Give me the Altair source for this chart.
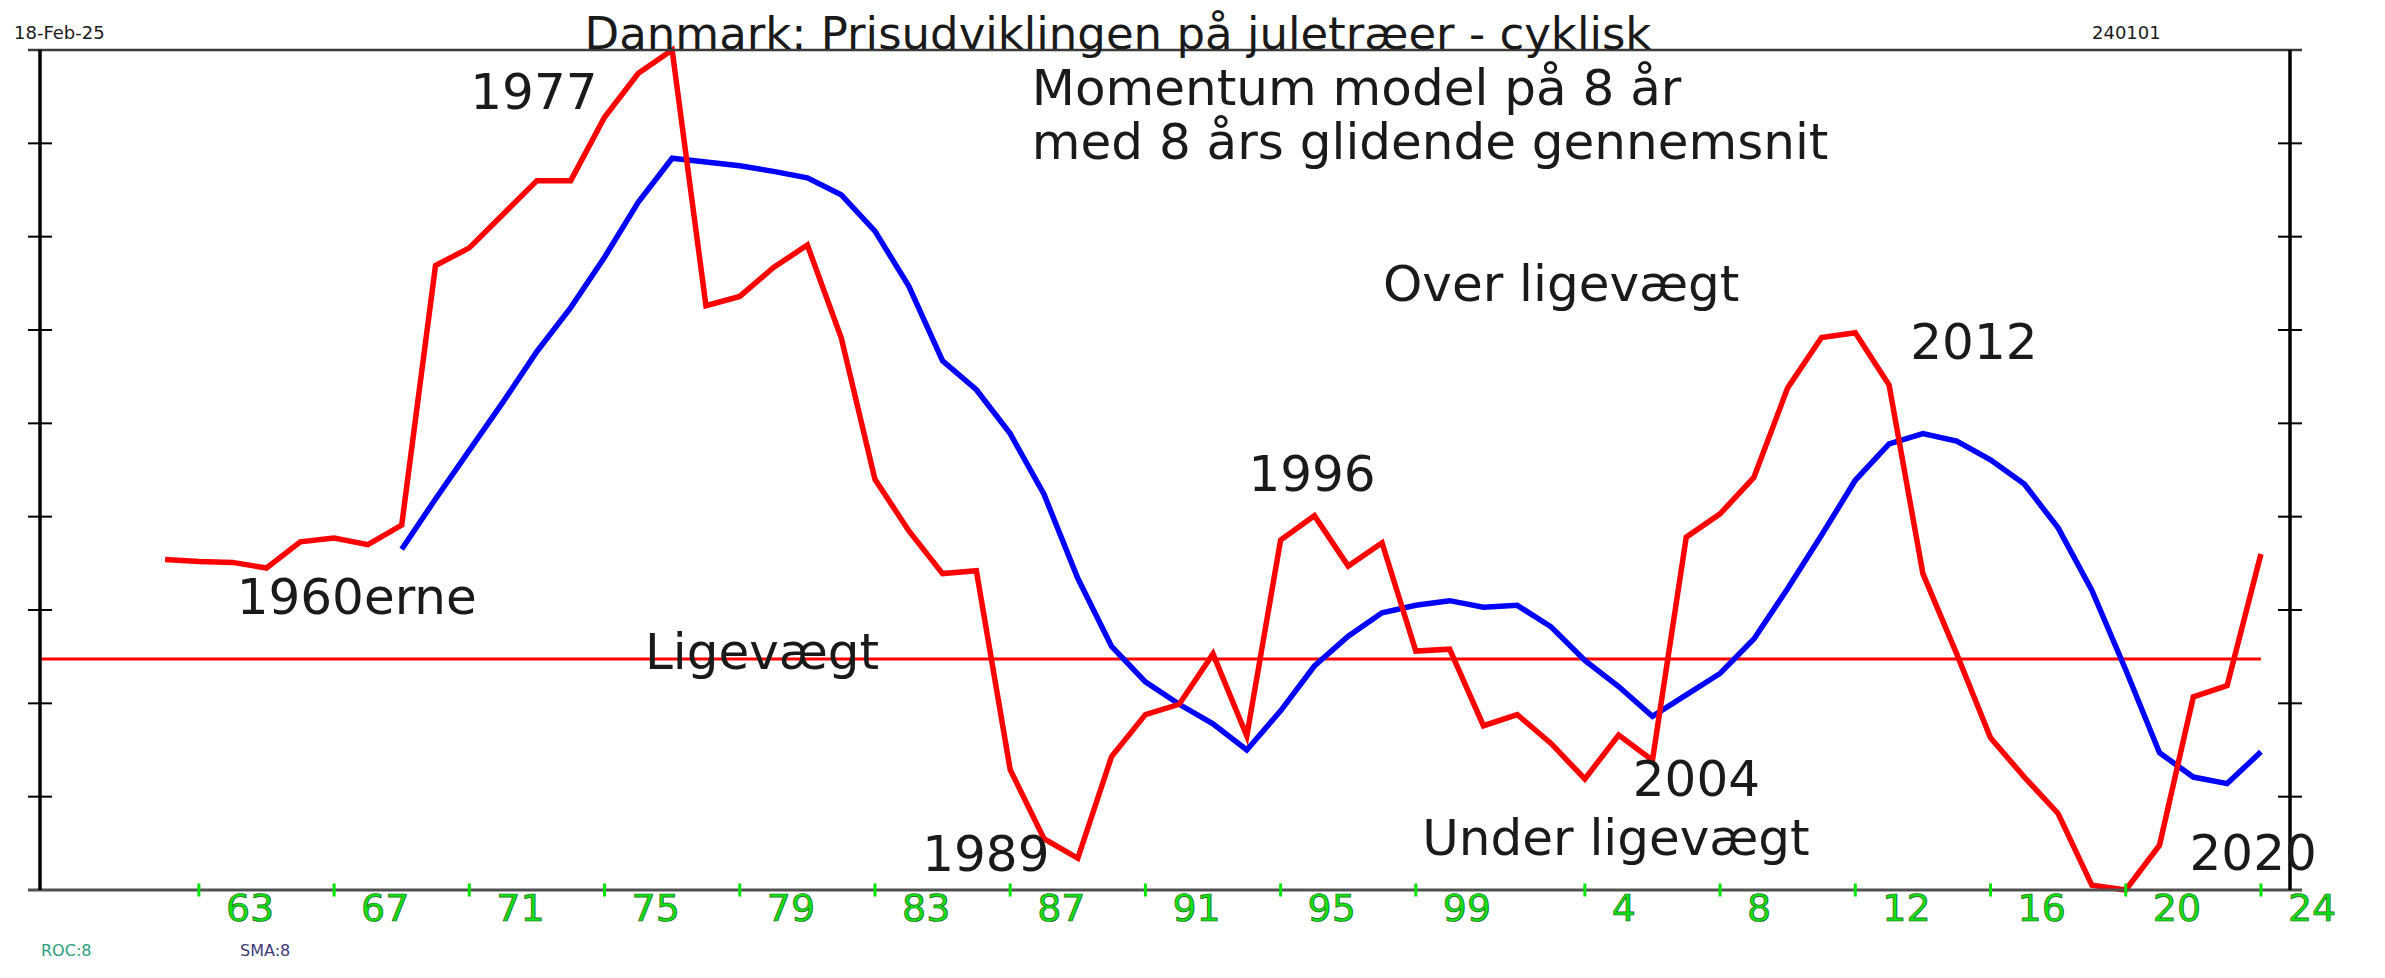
import altair as alt
import pandas as pd

# ---------------- data ----------------
red_years = list(range(1962, 2025))
red_values = [3.54, 3.52, 3.51, 3.45, 3.73, 3.77, 3.70, 3.91, 6.69, 6.88,
              7.24, 7.60, 7.60, 8.28, 8.75, 9.00, 6.26, 6.36, 6.67, 6.91,
              5.92, 4.40, 3.85, 3.39, 3.42, 1.29, 0.55, 0.34, 1.43, 1.88,
              1.99, 2.53, 1.65, 3.75, 4.01, 3.47, 3.72, 2.56, 2.58, 1.76,
              1.88, 1.57, 1.19, 1.66, 1.39, 3.78, 4.03, 4.42, 5.38, 5.92,
              5.97, 5.41, 3.39, 2.53, 1.63, 1.21, 0.82, 0.05, 0.00, 0.48,
              2.07, 2.19, 3.60]

blue_years = list(range(1969, 2025))
blue_values = [3.65, 4.19, 4.71, 5.23, 5.77, 6.24, 6.78, 7.37, 7.84, 7.80,
               7.76, 7.70, 7.63, 7.45, 7.06, 6.47, 5.67, 5.36, 4.89, 4.24,
               3.34, 2.61, 2.23, 1.99, 1.78, 1.50, 1.92, 2.40, 2.72, 2.97,
               3.05, 3.10, 3.03, 3.05, 2.82, 2.46, 2.18, 1.86, 2.09, 2.32,
               2.69, 3.23, 3.80, 4.39, 4.78, 4.89, 4.81, 4.61, 4.35, 3.88,
               3.21, 2.36, 1.47, 1.21, 1.14, 1.48]

equilibrium = 2.475
y_ticks = [1, 2, 3, 4, 5, 6, 7, 8]

tick_years = [1963, 1967, 1971, 1975, 1979, 1983, 1987, 1991, 1995, 1999,
              2004, 2008, 2012, 2016, 2020, 2024]
tick_labels = ["63", "67", "71", "75", "79", "83", "87", "91", "95", "99",
               "4", "8", "12", "16", "20", "24"]

ann_text = ["1977", "1960erne", "Ligevægt", "1989", "1996", "Over ligevægt",
            "2004", "Under ligevægt", "2012", "2020"]
ann_x = [1972.91, 1967.67, 1979.66, 1986.28, 1995.93, 2003.30,
         2007.30, 2004.92, 2015.51, 2023.77]
ann_y = [8.37, 2.96, 2.37, 0.20, 4.28, 6.31, 1.01, 0.37, 5.69, 0.21]

note_lines = ["Momentum model på 8 år", "med 8 års glidende gennemsnit"]
note_x = [1987.64, 1987.64]
note_y = [8.41, 7.83]

title_text = "Danmark: Prisudviklingen på juletræer - cyklisk"
date_text = "18-Feb-25"
code_text = "240101"
legend_texts = ["ROC:8", "SMA:8"]

# ---------------- layout ----------------
W, H = 2250, 840
X_MIN, X_MAX = 1958.3, 2024.86
Y_MIN, Y_MAX = 0, 9
FONT = "DejaVu Sans"
ANN_SIZE = 50

xs = alt.Scale(domain=[X_MIN, X_MAX], nice=False, zero=False)
ys = alt.Scale(domain=[Y_MIN, Y_MAX], nice=False, zero=False)


def X(f):
    return alt.X(f, type="quantitative", scale=xs, axis=None)


def Y(f):
    return alt.Y(f, type="quantitative", scale=ys, axis=None)


px_year = W / (X_MAX - X_MIN)
ext = 12 / px_year
gt = 6.5 / (H / (Y_MAX - Y_MIN))

# frame: top line and bottom (x-axis) line
hlines = pd.DataFrame({"x": [X_MIN - ext, X_MIN - ext], "x2": [X_MAX + ext, X_MAX + ext],
                       "y": [Y_MAX, Y_MIN], "c": ["#3a3a3a", "#505050"], "w": [2.5, 3.0]})
h_layer = alt.Chart(hlines).mark_rule().encode(
    x=X("x"), x2=alt.X2("x2"), y=Y("y"),
    color=alt.Color("c:N", scale=None), strokeWidth=alt.StrokeWidth("w:Q", scale=None))

vlines = pd.DataFrame({"x": [X_MIN, X_MAX], "y": [Y_MIN, Y_MIN], "y2": [Y_MAX, Y_MAX]})
v_layer = alt.Chart(vlines).mark_rule(color="black", strokeWidth=3.5).encode(
    x=X("x"), y=Y("y"), y2=alt.Y2("y2"))

yt_rows = []
for side in [X_MIN, X_MAX]:
    for t in y_ticks:
        yt_rows.append({"x": side - ext, "x2": side + ext, "y": t})
ytick_layer = alt.Chart(pd.DataFrame(yt_rows)).mark_rule(color="black", strokeWidth=2).encode(
    x=X("x"), x2=alt.X2("x2"), y=Y("y"))

gtick_df = pd.DataFrame({"year": tick_years, "label": tick_labels,
                         "y": [-gt] * len(tick_years), "y2": [gt] * len(tick_years)})
gtick_layer = alt.Chart(gtick_df).mark_rule(color="#00e600", strokeWidth=3).encode(
    x=X("year"), y=Y("y"), y2=alt.Y2("y2"))

glabel_layer = alt.Chart(gtick_df).mark_text(
    align="left", baseline="alphabetic", dx=27, fontSize=38, font=FONT,
    color="#12e012", stroke="#1e5e1e", strokeWidth=0.7).encode(
    x=X("year"), y=alt.value(H + 31), text="label:N")

eq_df = pd.DataFrame({"x": [X_MIN], "x2": [red_years[-1]], "y": [equilibrium]})
eq_layer = alt.Chart(eq_df).mark_rule(color="#ff0000", strokeWidth=3).encode(
    x=X("x"), x2=alt.X2("x2"), y=Y("y"))

blue_df = pd.DataFrame({"year": blue_years, "v": blue_values})
blue_layer = alt.Chart(blue_df).mark_line(color="#0000ff", strokeWidth=5.5, strokeJoin="miter").encode(
    x=X("year"), y=Y("v"))

red_df = pd.DataFrame({"year": red_years, "v": red_values})
red_layer = alt.Chart(red_df).mark_line(color="#ff0000", strokeWidth=5.5, strokeJoin="miter").encode(
    x=X("year"), y=Y("v"))

ann_df = pd.DataFrame({"t": ann_text, "x": ann_x, "y": ann_y})
ann_layer = alt.Chart(ann_df).mark_text(
    align="center", baseline="alphabetic", fontSize=ANN_SIZE, font=FONT, color="#1a1a1a").encode(
    x=X("x"), y=Y("y"), text="t:N")

note_df = pd.DataFrame({"t": note_lines, "x": note_x, "y": note_y})
note_layer = alt.Chart(note_df).mark_text(
    align="left", baseline="alphabetic", fontSize=ANN_SIZE, font=FONT, color="#1a1a1a").encode(
    x=X("x"), y=Y("y"), text="t:N")


def px_text(txt, px, py, size, color="#1a1a1a", align="left"):
    return alt.Chart(pd.DataFrame({"t": [txt]})).mark_text(
        align=align, baseline="alphabetic", fontSize=size, font=FONT, color=color).encode(
        x=alt.value(px), y=alt.value(py), text="t:N")


title_layer = px_text(title_text, 1078, -1, 45, align="center")
date_layer = px_text(date_text, -26, -11, 18)
code_layer = px_text(code_text, 2052, -11, 18)
roc_layer = px_text(legend_texts[0], 1, 906, 16, color="#2a9d7c")
sma_layer = px_text(legend_texts[1], 200, 906, 16, color="#3b3b74")

chart = alt.layer(
    eq_layer, blue_layer, red_layer,
    h_layer, v_layer, ytick_layer, gtick_layer, glabel_layer,
    ann_layer, note_layer,
    title_layer, date_layer, code_layer, roc_layer, sma_layer,
).properties(
    width=W, height=H,
    padding={"left": 32, "top": 42, "right": 80, "bottom": 72},
    autosize=alt.AutoSizeParams(type="none"),
    background="white",
).configure_view(stroke=None)

chart.save("out.html", embed_options={"renderer": "svg", "actions": False})
